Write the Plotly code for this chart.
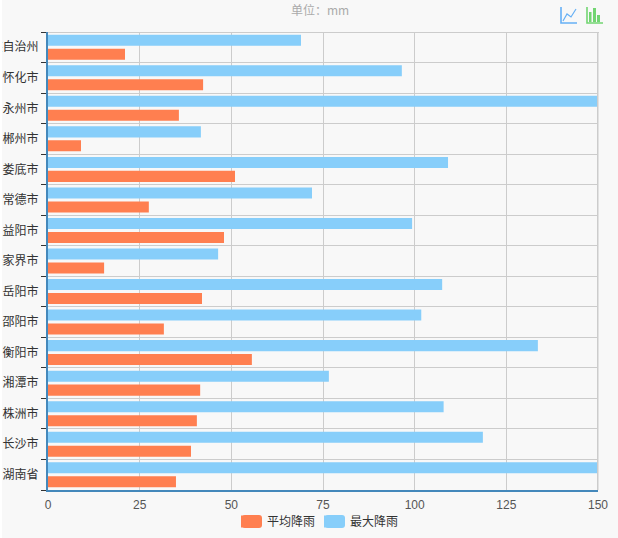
import plotly.graph_objects as go

W, H = 618, 538
L, R, T, B = 48, 20, 32, 48

categories = ["湖南省", "长沙市", "株洲市", "湘潭市", "衡阳市", "邵阳市", "岳阳市", "张家界市",
              "益阳市", "常德市", "娄底市", "郴州市", "永州市", "怀化市", "湘西土家族苗族自治州"]
avg_rain = [34.9, 39.0, 40.6, 41.5, 55.6, 31.6, 42.0, 15.3, 48.0, 27.5, 51.0, 9.0, 35.7, 42.3, 21.0]
max_rain = [150, 118.6, 107.9, 76.6, 133.6, 101.8, 107.5, 46.4, 99.3, 72.0, 109.1, 41.7, 150, 96.5, 69.0]
x_ticks = [0, 25, 50, 75, 100, 125, 150]

ORANGE, BLUE = "#FF7F50", "#87CEFA"
FONT = "Noto Sans CJK SC, Liberation Sans, Arial, sans-serif"


def px(x):
    return (x - L) / (W - L - R)


def py(y):
    return 1 - (y - T) / (H - T - B)


def line_shape(points, color, width):
    d = "M" + "L".join(f"{px(x):.5f},{py(y):.5f}" for x, y in points)
    return dict(type="path", xref="paper", yref="paper", path=d, layer="above",
                line=dict(color=color, width=width))


def rect_shape(x0, y0, x1, y1, color):
    return dict(type="rect", xref="paper", yref="paper", x0=px(x0), x1=px(x1), y0=py(y0), y1=py(y1),
                fillcolor=color, line=dict(width=0), layer="above")


def round_swatch(x0, y0, x1, y1, color, r=3):
    c = [(x0 + r, y0), (x1 - r, y0), (x1, y0), (x1, y0 + r), (x1, y1 - r), (x1, y1), (x1 - r, y1),
         (x0 + r, y1), (x0, y1), (x0, y1 - r), (x0, y0 + r), (x0, y0), (x0 + r, y0)]
    f = lambda p: f"{px(p[0]):.5f},{py(p[1]):.5f}"
    d = (f"M{f(c[0])}L{f(c[1])}Q{f(c[2])} {f(c[3])}L{f(c[4])}Q{f(c[5])} {f(c[6])}"
         f"L{f(c[7])}Q{f(c[8])} {f(c[9])}L{f(c[10])}Q{f(c[11])} {f(c[12])}Z")
    return dict(type="path", xref="paper", yref="paper", path=d, fillcolor=color,
                line=dict(width=0), layer="above")


fig = go.Figure()
fig.add_bar(y=categories, x=avg_rain, name="平均降雨", orientation="h", legend="legend", showlegend=True,
            marker=dict(color=ORANGE, line=dict(width=0)))
fig.add_bar(y=categories, x=max_rain, name="最大降雨", orientation="h", legend="legend2", showlegend=True,
            marker=dict(color=BLUE, line=dict(width=0)))

shapes = [
    rect_shape(0, 0, 2, H, "#ffffff"),
    # plot-area frame on the top and right
    rect_shape(48, 32, 599, 33, "#cccccc"),
    rect_shape(597, 32, 598.5, 490, "#cccccc"),
    # line-chart icon
    line_shape([(561, 7), (561, 23), (577, 23)], "#66B0F5", 1.6),
    line_shape([(563, 21), (567, 14), (571, 17), (576, 9)], "#66B0F5", 1.2),
    # bar-chart icon
    line_shape([(587, 7), (587, 23), (603, 23)], "#72D572", 1.6),
    rect_shape(589, 12, 591.5, 22, "#72D572"),
    rect_shape(593, 8, 596, 22, "#72D572"),
    rect_shape(597, 15, 600, 22, "#72D572"),
    # rounded legend swatches, sitting under the native legend keys
    round_swatch(242, 515, 262, 528, ORANGE),
    round_swatch(325, 515, 345, 528, BLUE),
]

legend_style = dict(visible=True, orientation="h", xanchor="left", y=py(507), yanchor="top",
                    font=dict(size=12, color="#333333"), bgcolor="rgba(0,0,0,0)", itemwidth=30)

fig.update_layout(
    width=W, height=H,
    showlegend=True,
    margin=dict(l=L, r=R, t=T, b=B, pad=0, autoexpand=False),
    paper_bgcolor="#f8f8f8", plot_bgcolor="#f8f8f8",
    font=dict(family=FONT, size=12, color="#333333"),
    barmode="group", bargap=0.085, bargroupgap=0.21,
    shapes=shapes,
    annotations=[dict(text="单位：mm", xref="paper", yref="paper", x=px(320), y=py(9), showarrow=False,
                      xanchor="center", yanchor="middle",
                      font=dict(size=12, color="#aaaaaa", family=FONT))],
    legend=dict(x=px(227), **legend_style),
    legend2=dict(x=px(310), **legend_style),
    xaxis=dict(range=[0, 150], tickvals=x_ticks, showgrid=True, gridcolor="#cccccc", gridwidth=1,
               showline=True, linecolor="#4488BB", linewidth=2, ticks="", zeroline=False, ticklabelstandoff=3,
               tickfont=dict(family="Liberation Sans, Arial, sans-serif", size=12, color="#555555")),
    yaxis=dict(type="category", categoryorder="array", categoryarray=categories,
               showgrid=True, gridcolor="#cccccc", gridwidth=1, tickson="boundaries",
               showline=True, linecolor="#4488BB", linewidth=2, ticks="outside", ticklen=5, tickwidth=1,
               tickcolor="#333333", zeroline=False, automargin=False, ticklabelstandoff=5,
               tickfont=dict(family=FONT, size=12, color="#333333")),
)

fig.write_html("out.html", config={"displayModeBar": False}, post_script=(
    "document.body.style.margin='0';document.documentElement.style.overflow='hidden';"
    "document.body.style.background='#ffffff';"
))
